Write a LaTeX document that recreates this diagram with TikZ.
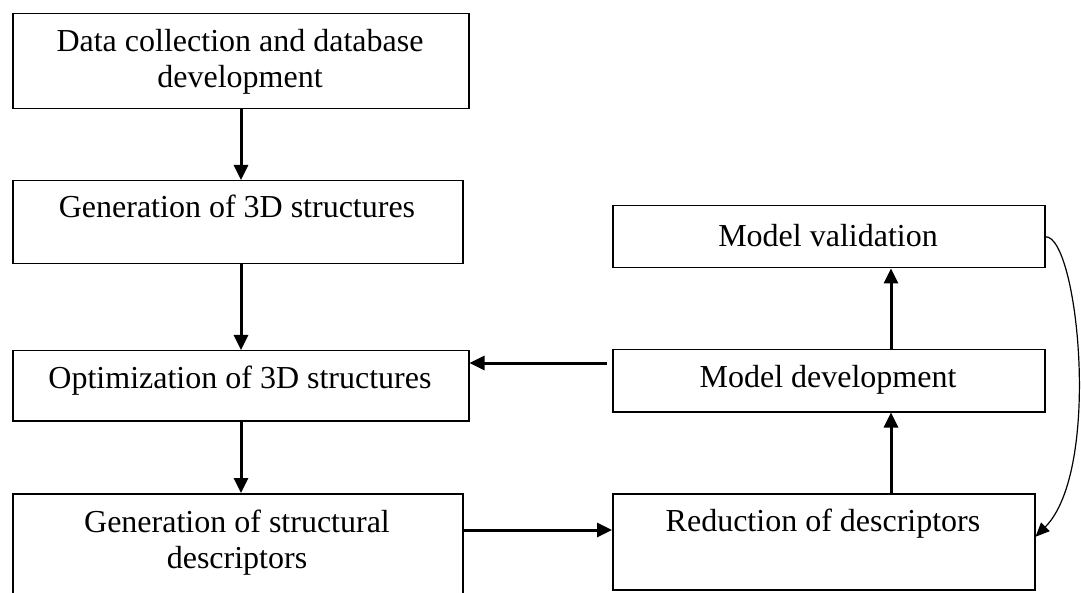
\documentclass[tikz,border=0pt]{standalone}
\usepackage{fontspec}
\setmainfont{Liberation Serif}
\usetikzlibrary{arrows.meta,calc}
\begin{document}
\begin{tikzpicture}[x=1pt,y=-1pt,
  box/.style={draw, line width=1.5pt, inner sep=0pt, anchor=north west},
  txt/.style={font=\fontsize{32}{36}\selectfont, inner sep=0pt, anchor=base},
  arr/.style={line width=3pt, -{Triangle[length=15pt,width=14pt]}},
  curvearr/.style={line width=1.2pt, -{Triangle[length=14pt,width=12pt]}}
]
\useasboundingbox (0,0) rectangle (1081,593);
\clip (0,0) rectangle (1081,593);

% boxes
\node[box, minimum width=456pt, minimum height=95pt] (b1) at (12,13) {};
\node[box, minimum width=450pt, minimum height=83pt] (b2) at (12,180) {};
\node[box, minimum width=456pt, minimum height=70pt] (b3) at (12,350) {};
\node[box, minimum width=450pt, minimum height=130pt] (b4) at (12,493) {};
\node[box, minimum width=432pt, minimum height=62pt] (mv) at (612,205) {};
\node[box, minimum width=432pt, minimum height=62pt] (md) at (612,349) {};
\node[box, minimum width=422pt, minimum height=96pt] (rd) at (612,493) {};

% texts
\node[txt] (t1a) at (240,52) {Data collection and database};
\node[txt] (t1b) at (240,88) {development};
\node[txt] (t2) at (237,218) {Generation of 3D structures};
\node[txt] (t3) at (240,388) {Optimization of 3D structures};
\node[txt] (t4a) at (237,532) {Generation of structural};
\node[txt] (t4b) at (237,568) {descriptors};
\node[txt] (tmv) at (828,247) {Model validation};
\node[txt] (tmd) at (828,387) {Model development};
\node[txt] (trd) at (823,531) {Reduction of descriptors};

% helper coordinates
\coordinate (lx) at (241,0);
\coordinate (rx) at (891,0);
\coordinate (ya) at (0,530);
\coordinate (yb) at (0,363);

% connectors
\draw[arr] (b1.south -| lx) -- (b2.north -| lx);
\draw[arr] (b2.south -| lx) -- (b3.north -| lx);
\draw[arr] (b3.south -| lx) -- (b4.north -| lx);
\draw[arr] (b4.east |- ya) -- (rd.west |- ya);
\draw[arr, shorten <=5pt] (md.west |- yb) -- (b3.east |- yb);
\draw[arr] (rd.north -| rx) -- (md.south -| rx);
\draw[arr] (md.north -| rx) -- (mv.south -| rx);
\draw[curvearr] (mv.east) .. controls (1078,236) and (1102,470) .. ($(rd.east)+(0,-5)$);
\end{tikzpicture}
\end{document}
